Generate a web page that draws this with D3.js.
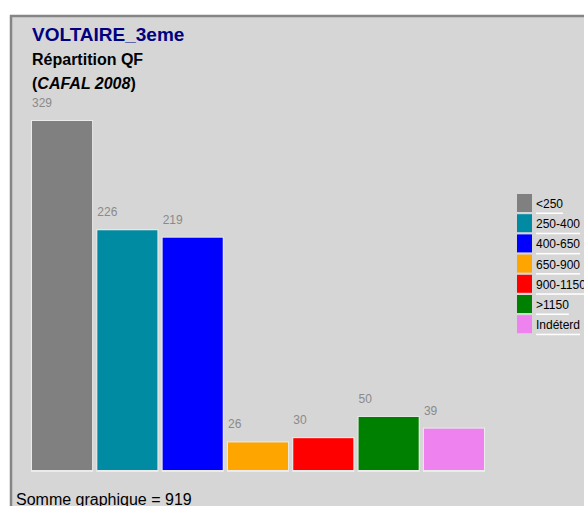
<!DOCTYPE html>
<html lang="fr">
<head>
<meta charset="UTF-8">
<title>VOLTAIRE_3eme</title>
<script src="https://cdnjs.cloudflare.com/ajax/libs/d3/7.8.5/d3.min.js"></script>
<style>
  body { margin: 0; background: #fff; }
  text { font-family: "Liberation Sans", Arial, sans-serif; }
</style>
</head>
<body>
<svg width="584" height="506"></svg>
<script>
"use strict";

const categories = ["<250", "250-400", "400-650", "650-900", "900-1150", ">1150", "Indéterd"];
const values = [329, 226, 219, 26, 30, 50, 39];
const colors = ["#808080", "#008ba3", "#0000ff", "#ffa500", "#ff0000", "#008000", "#ee82ee"];

const svg = d3.select("svg");

// panneau gris
svg.append("rect")
    .attr("x", 11).attr("y", 16)
    .attr("width", 600).attr("height", 520)
    .attr("fill", "#d6d6d6")
    .attr("stroke", "#858585")
    .attr("stroke-width", 2.5);

// titres
svg.append("text").attr("x", 32).attr("y", 41)
    .attr("fill", "#000080").attr("font-weight", "bold").attr("font-size", 19)
    .text("VOLTAIRE_3eme");
svg.append("text").attr("x", 32).attr("y", 65)
    .attr("font-weight", "bold").attr("font-size", 16)
    .text("Répartition QF");
const t3 = svg.append("text").attr("x", 32).attr("y", 89)
    .attr("font-weight", "bold").attr("font-size", 16);
t3.append("tspan").text("(");
t3.append("tspan").attr("font-style", "italic").text("CAFAL 2008");
t3.append("tspan").text(")");

// barres
const x = d3.scaleBand().domain(categories).range([32, 484]).paddingInner(0.08).paddingOuter(0);
const y = d3.scaleLinear().domain([0, 329]).range([470, 121]);

const bars = svg.append("g");
bars.selectAll("rect.shadow")
    .data(values)
    .join("rect")
    .attr("class", "shadow")
    .attr("x", (d, i) => x(categories[i]) - 1)
    .attr("y", d => y(d) - 1)
    .attr("width", x.bandwidth() + 2)
    .attr("height", d => y(0) - y(d) + 3)
    .attr("fill", "#ebebeb");
bars.selectAll("rect.bar")
    .data(values)
    .join("rect")
    .attr("class", "bar")
    .attr("x", (d, i) => x(categories[i]))
    .attr("y", d => y(d))
    .attr("width", x.bandwidth())
    .attr("height", d => y(0) - y(d))
    .attr("fill", (d, i) => colors[i]);

bars.selectAll("text")
    .data(values)
    .join("text")
    .attr("x", (d, i) => x(categories[i]))
    .attr("y", d => y(d) - 14)
    .attr("fill", "#8a8a8a")
    .attr("font-size", 12)
    .text(d => d);

// légende
const legend = svg.append("g");
const row = legend.selectAll("g")
    .data(categories)
    .join("g")
    .attr("transform", (d, i) => `translate(517,${194 + i * 20.2})`);
row.append("rect")
    .attr("width", 15).attr("height", 18)
    .attr("fill", (d, i) => colors[i]);
row.append("text")
    .attr("x", 19).attr("y", 14)
    .attr("font-size", 12)
    .text(d => d)
    .each(function () {
        const w = this.getComputedTextLength();
        d3.select(this.parentNode).append("rect")
            .attr("x", 19).attr("y", 18.5)
            .attr("width", w).attr("height", 1.5)
            .attr("fill", "#ffffff");
    });

// somme
svg.append("text").attr("x", 16).attr("y", 505)
    .attr("font-size", 16)
    .text("Somme graphique = " + d3.sum(values));
</script>
</body>
</html>
